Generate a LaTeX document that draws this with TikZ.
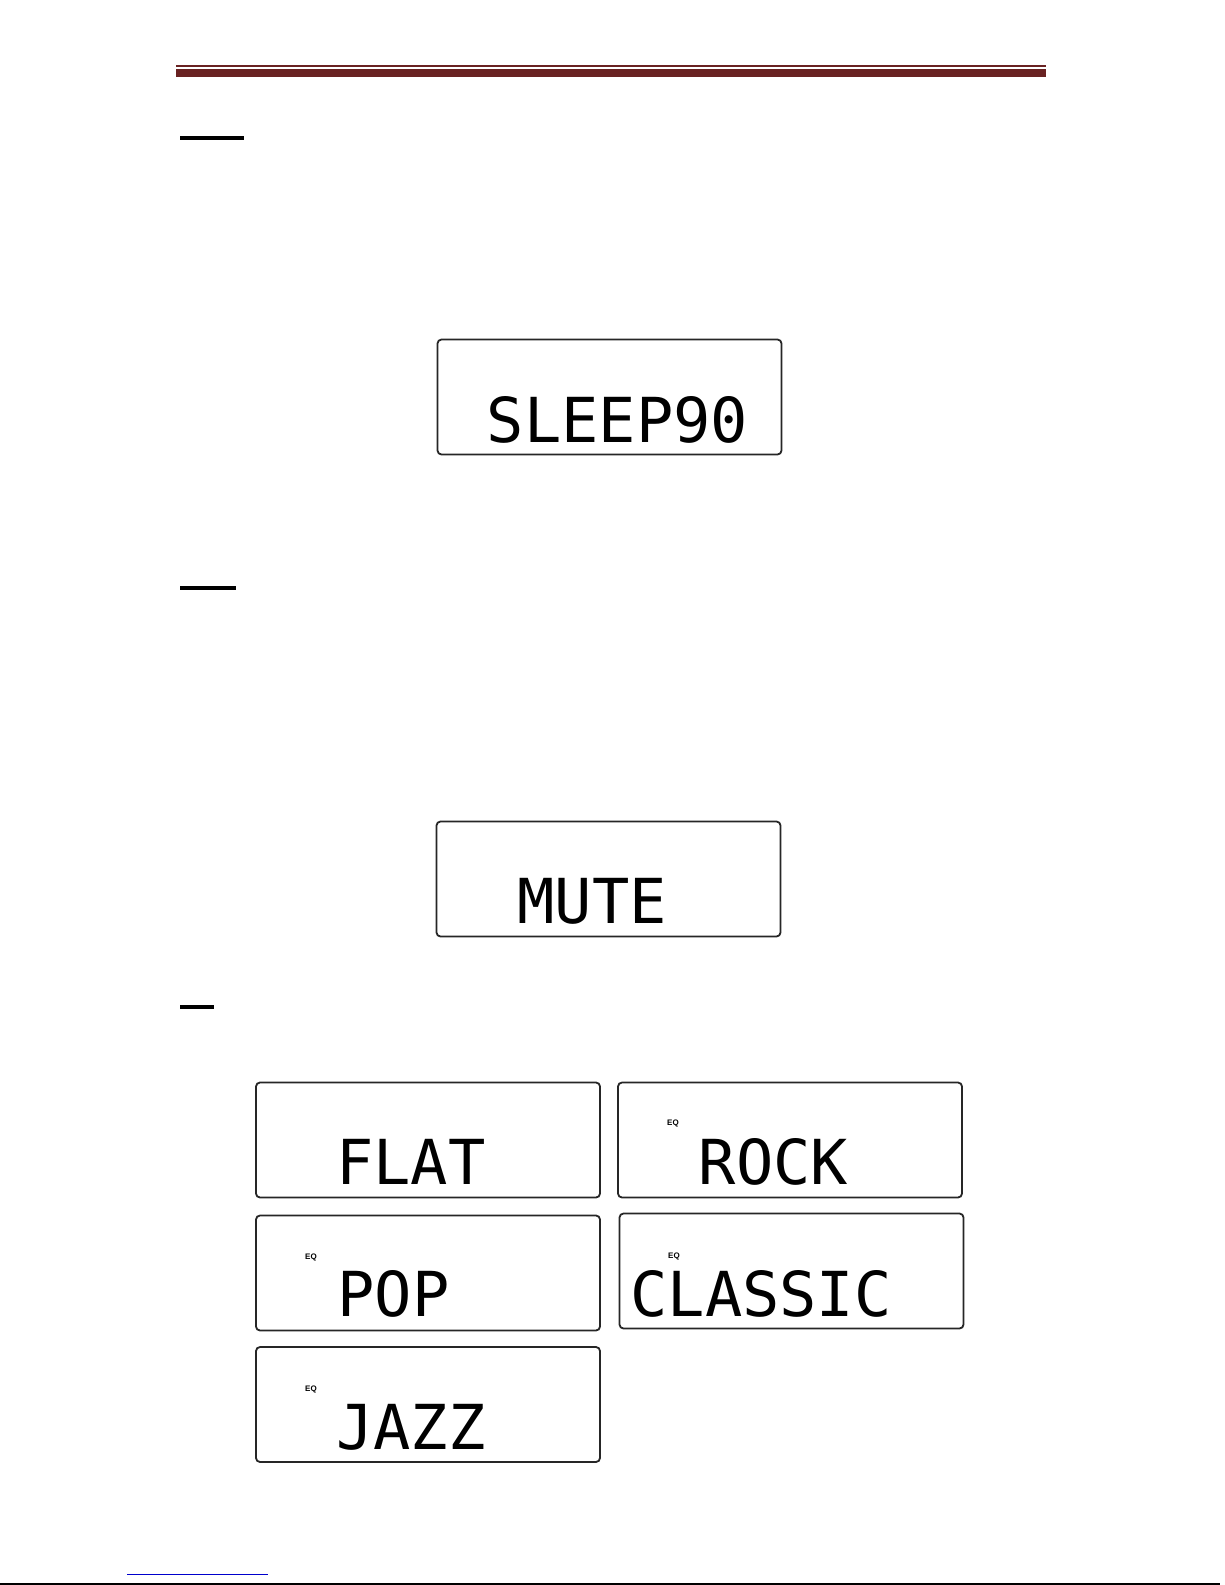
\documentclass[tikz,border=0pt]{standalone}
\usepackage{fontspec}
\newfontfamily\lcdfont{DejaVu Sans Mono}
\newfontfamily\eqfont{Liberation Sans}
\definecolor{hdrmaroon}{RGB}{105,34,34}
\definecolor{linkblue}{RGB}{0,0,205}
\begin{document}
\begin{tikzpicture}[x=1pt,y=-1pt,
  lcd/.style={draw=black!85, line width=1.8pt, rounded corners=4pt, inner sep=0pt,
              minimum width=344pt, minimum height=115pt},
  lcdtext/.style={font=\lcdfont\fontsize{62}{62}\selectfont, anchor=base, inner sep=0pt, text=black},
  eqtext/.style={font=\eqfont\bfseries\fontsize{8}{8}\selectfont, anchor=base west, inner sep=0pt},
  headrule/.style={line width=3.2pt, black}]
\useasboundingbox (0,0) rectangle (1225,1585);
% header bars
\fill[hdrmaroon] (176,65) rectangle (1046,67);
\fill[hdrmaroon] (176,69) rectangle (1046,77);
% heading underlines
\coordinate (u1a) at (180,138); \coordinate (u1b) at (244,138);
\coordinate (u2a) at (180,588); \coordinate (u2b) at (236,588);
\coordinate (u3a) at (180,1007); \coordinate (u3b) at (214,1007);
\draw[headrule] (u1a) -- (u1b);
\draw[headrule] (u2a) -- (u2b);
\draw[headrule] (u3a) -- (u3b);
% SLEEP display
\node[lcd] (sleepbox) at (609.5,397) {};
\node[lcdtext] (sleeptxt) at (617.5,442) {SLEEP90};
% MUTE display
\node[lcd] (mutebox) at (608.5,879) {};
\node[lcdtext] (mutetxt) at (592,923) {MUTE};
% EQ displays
\node[lcd] (flatbox) at (428,1140) {};
\node[lcdtext] (flattxt) at (411,1184) {FLAT};
\node[lcd] (rockbox) at (790,1140) {};
\node[eqtext] (rockeq) at (667,1125) {EQ};
\node[lcdtext] (rocktxt) at (773.5,1184) {ROCK};
\node[lcd] (popbox) at (428,1273) {};
\node[eqtext] (popeq) at (305,1259) {EQ};
\node[lcdtext] (poptxt) at (393.5,1316) {POP};
\node[lcd] (classicbox) at (791.5,1271) {};
\node[eqtext] (classiceq) at (668,1258) {EQ};
\node[lcdtext] (classictxt) at (761,1316) {CLASSIC};
\node[lcd] (jazzbox) at (428,1404.5) {};
\node[eqtext] (jazzeq) at (305,1391) {EQ};
\node[lcdtext] (jazztxt) at (411,1449) {JAZZ};
% footer lines
\coordinate (bla) at (127,1574.5); \coordinate (blb) at (268,1574.5);
\draw[linkblue, line width=1.4pt] (bla) -- (blb);
\coordinate (fla) at (0,1584); \coordinate (flb) at (1220,1584);
\draw[black, line width=2pt] (fla) -- (flb);
\end{tikzpicture}
\end{document}
